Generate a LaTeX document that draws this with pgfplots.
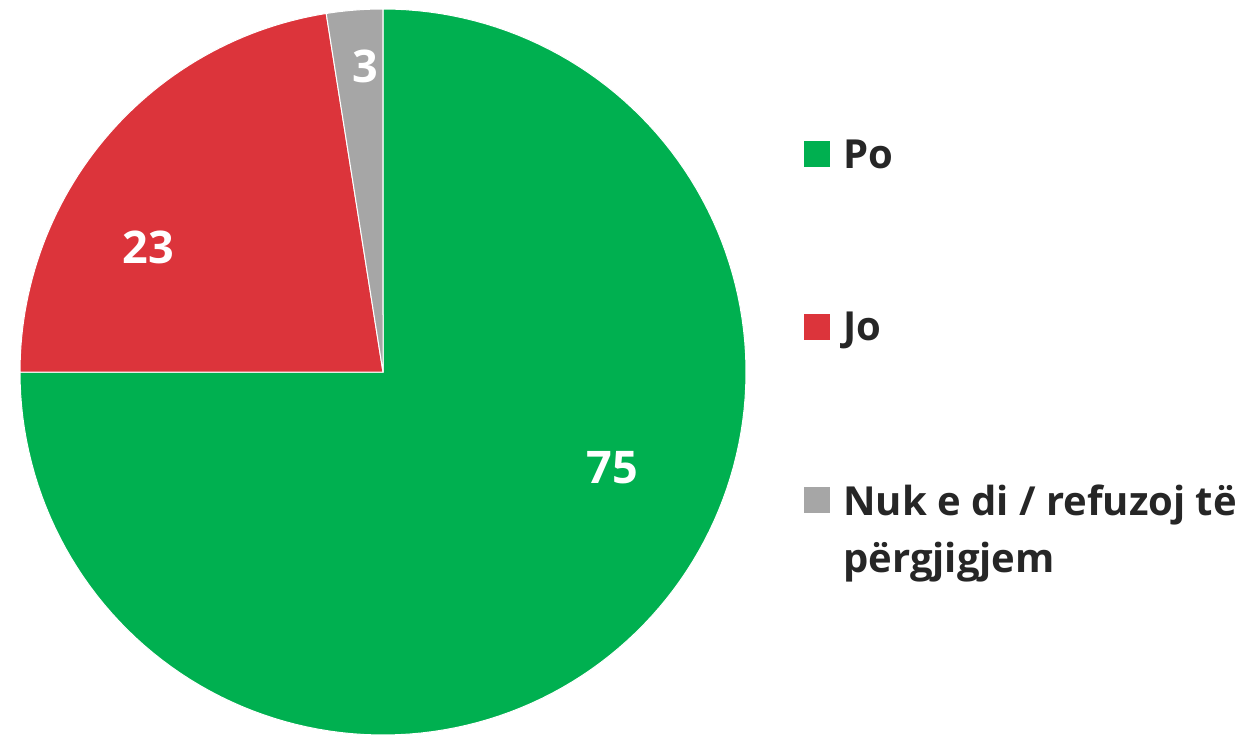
\documentclass[border=0pt]{standalone}
\usepackage{pgfplots}
\usepackage{pgfplotstable}
\pgfplotsset{compat=1.18}
\usepackage{fontspec}
\setmainfont{Open Sans}
\definecolor{cgreen}{HTML}{00B050}
\definecolor{cred}{HTML}{DC343B}
\definecolor{cgray}{HTML}{A6A6A6}
\definecolor{ctext}{HTML}{262626}
\pgfplotstableread{
label value shown
Po  75.0 75
Jo  22.5 23
Nuk 2.5  3
}\piedata
\begin{document}
\begin{tikzpicture}
\pgfplotstablegetelem{0}{value}\of\piedata \let\va\pgfplotsretval
\pgfplotstablegetelem{1}{value}\of\piedata \let\vb\pgfplotsretval
\pgfplotstablegetelem{2}{value}\of\piedata \let\vc\pgfplotsretval
\pgfmathsetmacro\tot{\va+\vb+\vc}
\pgfmathsetmacro\aA{90}
\pgfmathsetmacro\aB{90-3.6*(\va/\tot)*100}
\pgfmathsetmacro\aC{\aB-3.6*(\vb/\tot)*100}
\pgfmathsetmacro\aD{\aC-3.6*(\vc/\tot)*100}
\def\cx{383}\def\cy{363}\def\R{363}
\begin{axis}[
  at={(0,0)}, anchor=south west,
  width=625.5pt, height=367.5pt, scale only axis,
  xmin=0, xmax=1251, ymin=0, ymax=735,
  hide axis, clip=false,
  trig format plots=deg,
]
\addplot[fill=cgreen, draw=white, line width=0.5pt, domain=\aB:\aA, samples=150]
  ({\cx+\R*cos(x)},{\cy+\R*sin(x)}) -- (axis cs:\cx,\cy) -- cycle;
\addplot[fill=cred, draw=white, line width=0.5pt, domain=\aC:\aB, samples=60]
  ({\cx+\R*cos(x)},{\cy+\R*sin(x)}) -- (axis cs:\cx,\cy) -- cycle;
\addplot[fill=cgray, draw=white, line width=0.5pt, domain=\aD:\aC, samples=10]
  ({\cx+\R*cos(x)},{\cy+\R*sin(x)}) -- (axis cs:\cx,\cy) -- cycle;
% slice labels
\node[text=white, font=\bfseries\fontsize{22.5}{26}\selectfont] at (axis cs:612,267) {75};
\node[text=white, font=\bfseries\fontsize{22.5}{26}\selectfont] at (axis cs:148,488) {23};
\node[text=white, font=\bfseries\fontsize{22.5}{26}\selectfont] at (axis cs:365,669) {3};
% legend
\fill[cgreen] (axis cs:804,594) rectangle (axis cs:830,568);
\fill[cred]   (axis cs:804,421) rectangle (axis cs:830,395);
\fill[cgray]  (axis cs:804,248) rectangle (axis cs:830,222);
\node[anchor=base west, inner sep=0pt, text=ctext, font=\bfseries\fontsize{20}{28.5}\selectfont] at (axis cs:843,567) {Po};
\node[anchor=base west, inner sep=0pt, text=ctext, font=\bfseries\fontsize{20}{28.5}\selectfont] at (axis cs:843,395) {Jo};
\node[anchor=base west, inner sep=0pt, text=ctext, font=\bfseries\fontsize{20}{28.5}\selectfont, align=left] at (axis cs:843,163) {Nuk e di / refuzoj të\\përgjigjem};
\end{axis}
\pgfresetboundingbox
\path[use as bounding box] (0,0) rectangle (625.5pt,367.5pt);
\end{tikzpicture}
\end{document}
